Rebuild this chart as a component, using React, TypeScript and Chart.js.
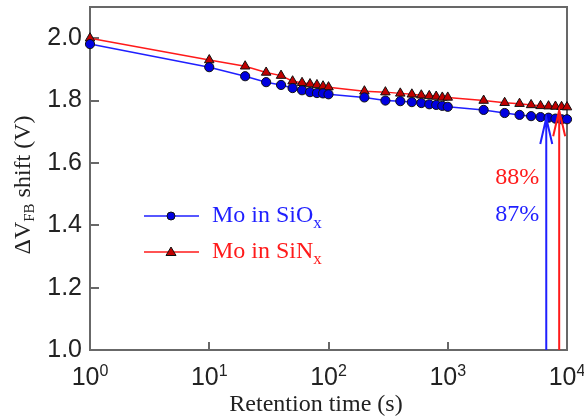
import { useEffect, useRef } from "react";
import { Chart, registerables } from "chart.js";

Chart.register(...registerables);

// ---- data ----
const retentionTimes = [1, 10, 20, 30, 40, 50, 60, 70, 80, 90, 100, 200, 300, 400, 500, 600, 700, 800, 900, 1000, 2000, 3000, 4000, 5000, 6000, 7000, 8000, 9000, 10000];
const sioShift = [1.981, 1.907, 1.878, 1.859, 1.85, 1.84, 1.833, 1.827, 1.824, 1.823, 1.82, 1.81, 1.8, 1.798, 1.795, 1.792, 1.788, 1.786, 1.783, 1.78, 1.77, 1.76, 1.754, 1.75, 1.747, 1.745, 1.742, 1.74, 1.74];
const sinShift = [2.0, 1.93, 1.91, 1.89, 1.88, 1.862, 1.857, 1.853, 1.85, 1.846, 1.843, 1.83, 1.827, 1.823, 1.82, 1.817, 1.815, 1.813, 1.81, 1.81, 1.8, 1.793, 1.79, 1.786, 1.783, 1.782, 1.781, 1.78, 1.779];
const yTickValues = [1.0, 1.2, 1.4, 1.6, 1.8, 2.0];
const xTickValues = [1, 10, 100, 1000, 10000];
const xTickExponents = ["0", "1", "2", "3", "4"];
const seriesNames = ["Mo in SiO", "Mo in SiN"];
const seriesSubscripts = ["x", "x"];
const arrowTimes = [6700, 8600];
const arrowTipValues = [1.744, 1.769];
const retentionLabels = ["87%", "88%"];
const retentionLabelValues = [1.414, 1.533];

const BLUE = "#1f1fff";
const RED = "#ff1a1a";
const SERIF = "'Liberation Serif', 'Times New Roman', serif";
const SANS = "'Liberation Sans', Arial, sans-serif";
const AXIS = "#686868";

const decorations = {
  id: "decorations",
  beforeDatasetsDraw(chart: any) {
    const { ctx, chartArea: a, scales } = chart;
    ctx.save();
    ctx.strokeStyle = AXIS;
    ctx.lineWidth = 2;
    ctx.strokeRect(a.left, a.top, a.right - a.left, a.bottom - a.top);
    ctx.beginPath();
    yTickValues.forEach((v) => {
      const y = Math.round(scales.y.getPixelForValue(v));
      ctx.moveTo(a.left, y);
      ctx.lineTo(a.left + 9, y);
    });
    xTickValues.forEach((v) => {
      const x = Math.round(scales.x.getPixelForValue(v));
      ctx.moveTo(x, a.bottom);
      ctx.lineTo(x, a.bottom - 8);
    });
    ctx.stroke();
    ctx.restore();
  },
  afterDatasetsDraw(chart: any) {
    const { ctx, chartArea: a, scales } = chart;
    const xs = scales.x;
    const ys = scales.y;
    ctx.save();

    // arrows
    const arrowColors = [BLUE, RED];
    arrowTimes.forEach((t, i) => {
      const x = xs.getPixelForValue(t);
      const tip = ys.getPixelForValue(arrowTipValues[i]);
      ctx.strokeStyle = arrowColors[i];
      ctx.lineWidth = 2;
      ctx.beginPath();
      ctx.moveTo(x, a.bottom);
      ctx.lineTo(x, tip);
      ctx.moveTo(x - 6, tip + 26);
      ctx.lineTo(x, tip);
      ctx.lineTo(x + 6, tip + 26);
      ctx.stroke();
    });

    // percent labels
    ctx.font = `24px ${SERIF}`;
    ctx.textAlign = "right";
    ctx.textBaseline = "alphabetic";
    const labelX = xs.getPixelForValue(arrowTimes[0]) - 7;
    retentionLabels.forEach((s, i) => {
      ctx.fillStyle = arrowColors[i];
      ctx.fillText(s, labelX, ys.getPixelForValue(retentionLabelValues[i]));
    });

    // legend
    const legendRows = [216, 252];
    legendRows.forEach((y, i) => {
      const col = i === 0 ? BLUE : RED;
      ctx.strokeStyle = col;
      ctx.lineWidth = 1.5;
      ctx.beginPath();
      ctx.moveTo(144, y);
      ctx.lineTo(199, y);
      ctx.stroke();
      ctx.fillStyle = i === 0 ? "#0000e0" : "#c00000";
      ctx.strokeStyle = "#111";
      ctx.lineWidth = 1;
      ctx.beginPath();
      if (i === 0) {
        ctx.arc(171, y, 4, 0, Math.PI * 2);
      } else {
        ctx.moveTo(171, y - 5);
        ctx.lineTo(176, y + 3.5);
        ctx.lineTo(166, y + 3.5);
        ctx.closePath();
      }
      ctx.fill();
      ctx.stroke();
      ctx.fillStyle = col;
      ctx.textAlign = "left";
      ctx.font = `24px ${SERIF}`;
      const base = y + 6;
      ctx.fillText(seriesNames[i], 212, base);
      const w = ctx.measureText(seriesNames[i]).width;
      ctx.font = `17px ${SERIF}`;
      ctx.fillText(seriesSubscripts[i], 212 + w, base + 6);
    });

    // x tick labels
    ctx.fillStyle = "#222";
    ctx.textAlign = "left";
    xTickValues.forEach((v, i) => {
      const x = xs.getPixelForValue(v);
      ctx.font = `25px ${SANS}`;
      const w1 = ctx.measureText("10").width;
      ctx.font = `16px ${SANS}`;
      const w2 = ctx.measureText(xTickExponents[i]).width;
      const start = x - (w1 + w2) / 2;
      ctx.font = `25px ${SANS}`;
      ctx.fillText("10", start, 385);
      ctx.font = `16px ${SANS}`;
      ctx.fillText(xTickExponents[i], start + w1, 376);
    });

    // x title
    ctx.font = `24px ${SERIF}`;
    ctx.textAlign = "center";
    ctx.fillText("Retention time (s)", 316, 411);

    // y title
    ctx.translate(30, 185);
    ctx.rotate(-Math.PI / 2);
    const parts = [
      { t: "\u0394V", f: 24, dy: 0 },
      { t: "FB", f: 15, dy: 4 },
      { t: " shift (V)", f: 24, dy: 0 },
    ];
    let total = 0;
    parts.forEach((p) => {
      ctx.font = `${p.f}px ${SERIF}`;
      total += ctx.measureText(p.t).width;
    });
    let cx = -total / 2;
    ctx.textAlign = "left";
    parts.forEach((p) => {
      ctx.font = `${p.f}px ${SERIF}`;
      ctx.fillText(p.t, cx, p.dy);
      cx += ctx.measureText(p.t).width;
    });
    ctx.restore();
  },
};

export default function App() {
  const ref = useRef<HTMLCanvasElement | null>(null);
  useEffect(() => {
    if (!ref.current) return;
    const chart = new Chart(ref.current, {
      type: "line",
      data: {
        datasets: [
          {
            label: seriesNames[0] + seriesSubscripts[0],
            data: retentionTimes.map((t, i) => ({ x: t, y: sioShift[i] })),
            borderColor: BLUE,
            borderWidth: 1.5,
            pointStyle: "circle",
            pointRadius: 4.6,
            pointBackgroundColor: "#0000e0",
            pointBorderColor: "#111",
            pointBorderWidth: 1,
            tension: 0,
            clip: false as any,
          },
          {
            label: seriesNames[1] + seriesSubscripts[1],
            data: retentionTimes.map((t, i) => ({ x: t, y: sinShift[i] })),
            borderColor: RED,
            borderWidth: 1.5,
            pointStyle: "triangle",
            pointRadius: 5.5,
            pointBackgroundColor: "#c00000",
            pointBorderColor: "#111",
            pointBorderWidth: 1,
            tension: 0,
            clip: false as any,
          },
        ],
      },
      options: {
        animation: false,
        responsive: false,
        devicePixelRatio: 1,
        layout: { padding: { left: 0, top: 7, right: 17, bottom: 0 } },
        plugins: { legend: { display: false }, tooltip: { enabled: false } },
        scales: {
          x: {
            type: "logarithmic",
            min: 1,
            max: 10000,
            grid: { display: false, drawTicks: false },
            border: { display: false },
            ticks: { display: false },
            afterFit: (s: any) => {
              s.height = 67;
              s.paddingLeft = 0;
              s.paddingRight = 0;
            },
          },
          y: {
            type: "linear",
            min: 1.0,
            max: 2.1,
            grid: { display: false, drawTicks: false },
            border: { display: false },
            afterBuildTicks: (s: any) => {
              s.ticks = yTickValues.map((v) => ({ value: v }));
            },
            ticks: {
              font: { family: SANS, size: 25 },
              color: "#222",
              padding: 8,
              callback: (v: any) => Number(v).toFixed(1),
            },
            afterFit: (s: any) => {
              s.width = 90;
              s.paddingTop = 0;
              s.paddingBottom = 0;
            },
          },
        },
      },
      plugins: [decorations],
    });
    return () => chart.destroy();
  }, []);
  return (
    <div style={{ position: "absolute", left: 0, top: 0, width: 584, height: 417, background: "#fff" }}>
      <canvas ref={ref} width={584} height={417} />
    </div>
  );
}
